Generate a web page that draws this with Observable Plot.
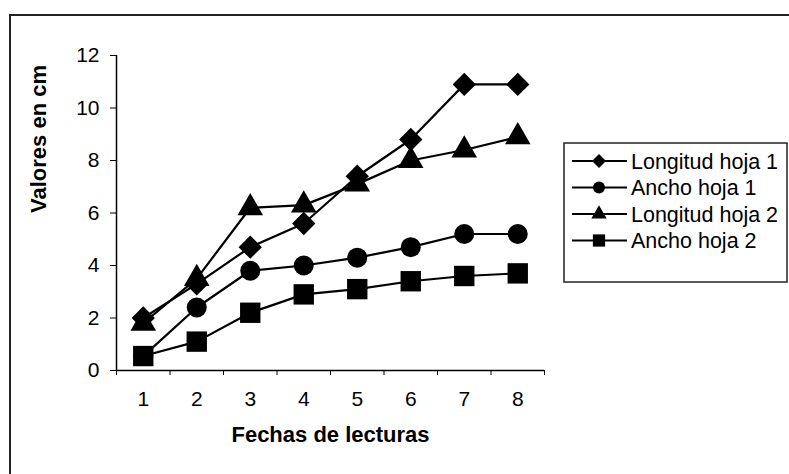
<!DOCTYPE html>
<html>
<head>
<meta charset="utf-8">
<script src="https://cdn.jsdelivr.net/npm/d3@7"></script>
<script src="https://cdn.jsdelivr.net/npm/@observablehq/plot@0.6"></script>
<style>
  html, body { margin: 0; padding: 0; background: #fff; }
  #wrap { position: relative; width: 789px; height: 474px; overflow: hidden; }
  #border { position: absolute; left: 9px; top: 14px; width: 800px; height: 480px; border: 2px solid #222; box-sizing: border-box; }
  #chart { position: absolute; left: 0; top: 0; }
</style>
</head>
<body>
<div id="wrap"><div id="border"></div><div id="chart"></div></div>
<script>
const fechas = [1, 2, 3, 4, 5, 6, 7, 8];
const seriesNames = ["Longitud hoja 1", "Ancho hoja 1", "Longitud hoja 2", "Ancho hoja 2"];
const longitudHoja1 = [2.0, 3.3, 4.7, 5.6, 7.4, 8.8, 10.9, 10.9];
const anchoHoja1 = [0.55, 2.4, 3.8, 4.0, 4.3, 4.7, 5.2, 5.2];
const longitudHoja2 = [1.8, 3.5, 6.2, 6.3, 7.1, 8.0, 8.4, 8.9];
const anchoHoja2 = [0.55, 1.1, 2.2, 2.9, 3.1, 3.4, 3.6, 3.7];
const yTicks = [0, 2, 4, 6, 8, 10, 12];
const xTitle = "Fechas de lecturas";
const yTitle = "Valores en cm";

const seriesValues = [longitudHoja1, anchoHoja1, longitudHoja2, anchoHoja2];
const symbols = ["diamond2", "circle", "triangle", "square"];
const radii = [10.5, 10, 9.5, 11.5];

const data = seriesNames.map((name, i) =>
  fechas.map((f, j) => ({serie: name, fecha: f, valor: seriesValues[i][j]})));

const boundaries = [...fechas.map(f => f - 0.5), fechas[fechas.length - 1] + 0.5];

const FONT = "Liberation Sans, Arial, sans-serif";

const marks = [
  Plot.axisY({ticks: yTicks, tickSize: 6, tickPadding: 11, label: null, fontSize: 21}),
  Plot.axisX({ticks: fechas, tickSize: 0, tickPadding: 21, label: null, fontSize: 21}),
  Plot.axisX({ticks: boundaries, tickSize: 5, tickFormat: () => "", label: null}),
  Plot.ruleX([boundaries[0]], {stroke: "#000", strokeWidth: 1.5}),
  Plot.ruleY([0], {stroke: "#000", strokeWidth: 1.5}),
];
data.forEach((d, i) => {
  marks.push(Plot.line(d, {x: "fecha", y: "valor", stroke: "#000", strokeWidth: 2.2}));
  marks.push(Plot.dot(d, {x: "fecha", y: "valor", symbol: () => symbols[i], r: radii[i], fill: "#000", stroke: "none"}));
});
marks.push(Plot.text([yTitle], {frameAnchor: "left", dx: -78, rotate: -90, fontSize: 22, fontWeight: "bold", fill: "#000"}));
marks.push(Plot.text([xTitle], {frameAnchor: "bottom", dy: 71, fontSize: 22, fontWeight: "bold", fill: "#000"}));

const chart = Plot.plot({
  width: 789,
  height: 474,
  marginLeft: 116,
  marginRight: 245,
  marginTop: 55,
  marginBottom: 104,
  x: {type: "linear", domain: [boundaries[0], boundaries[boundaries.length - 1]]},
  y: {domain: [0, 12]},
  symbol: {type: "identity"},
  style: {fontFamily: FONT, fontSize: "21px", color: "#000", background: "transparent", overflow: "visible"},
  marks
});
document.getElementById("chart").appendChild(chart);

// Legend (drawn inside the same SVG)
const svg = d3.select(chart);
const lg = svg.append("g").attr("transform", "translate(564,143)");
lg.append("rect").attr("width", 223).attr("height", 139).attr("fill", "#fff").attr("stroke", "#222").attr("stroke-width", 1.5);
const symMap = {diamond2: d3.symbolDiamond2, circle: d3.symbolCircle, triangle: d3.symbolTriangle, square: d3.symbolSquare};
seriesNames.forEach((name, i) => {
  const y = 18 + i * 26.5;
  const g = lg.append("g").attr("transform", `translate(0,${y})`);
  g.append("line").attr("x1", 8).attr("x2", 63).attr("y1", 0).attr("y2", 0).attr("stroke", "#000").attr("stroke-width", 2.2);
  const r = radii[i] * 0.6;
  g.append("path").attr("transform", "translate(35,0)").attr("d", d3.symbol(symMap[symbols[i]], Math.PI * r * r)()).attr("fill", "#000");
  g.append("text").attr("x", 67).attr("y", 0).attr("dy", "0.35em").attr("text-anchor", "start")
    .attr("font-size", 21.5).attr("font-family", FONT).attr("fill", "#000").text(name);
});
</script>
</body>
</html>
